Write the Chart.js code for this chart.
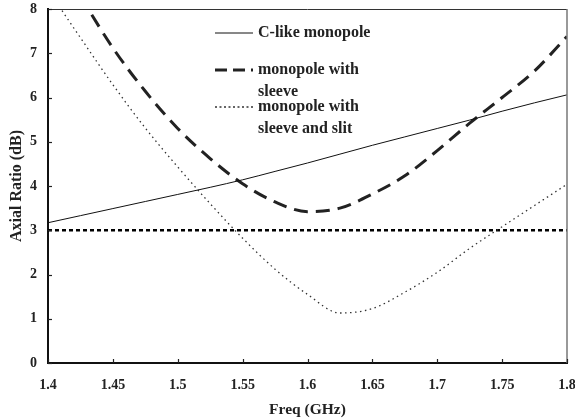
<!DOCTYPE html>
<html>
<head>
<meta charset="utf-8">
<script src="https://cdn.jsdelivr.net/npm/chart.js@4.4.1/dist/chart.umd.min.js"></script>
<style>
html,body{margin:0;padding:0;background:#fff;}
#wrap{width:575px;height:420px;}
</style>
</head>
<body>
<div id="wrap"><canvas id="c" width="575" height="420"></canvas></div>
<script>
// ---- data ----
const freqs      = [1.400,1.425,1.450,1.475,1.500,1.525,1.550,1.575,1.600,1.625,1.650,1.675,1.700,1.725,1.750,1.775,1.800];
const cLike      = [3.17, 3.33, 3.49, 3.65, 3.81, 3.97, 4.14, 4.33, 4.52, 4.72, 4.92, 5.11, 5.30, 5.49, 5.69, 5.88, 6.06];
const sleeve     = [9.60, 8.30, 7.12, 6.14, 5.30, 4.62, 4.05, 3.64, 3.42, 3.50, 3.82, 4.23, 4.80, 5.42, 6.00, 6.60, 7.38];
const sleeveSlit = [8.43, 7.35, 6.29, 5.31, 4.43, 3.60, 2.82, 2.12, 1.55, 1.13, 1.23, 1.60, 2.05, 2.59, 3.08, 3.56, 4.04];
const threshold  = [3, 3];
const thresholdFreqs = [1.4, 1.8];
const xTicks = [1.4,1.45,1.5,1.55,1.6,1.65,1.7,1.75,1.8];
const yTicks = [0,1,2,3,4,5,6,7,8];
const seriesNames = ['C-like monopole', 'monopole with\nsleeve', 'monopole with\nsleeve and slit'];

const pts = (xs, ys) => xs.map((x, i) => ({x: x, y: ys[i]}));
const SERIF = '"Liberation Serif","Times New Roman",serif';

const framePlugin = {
  id: 'frame',
  afterDraw(chart) {
    const ctx = chart.ctx, a = chart.chartArea;
    const xs = chart.scales.x, ys = chart.scales.y;
    ctx.save();
    // top and right frame
    ctx.strokeStyle = '#333'; ctx.lineWidth = 1;
    ctx.beginPath(); ctx.moveTo(a.left, a.top + 0.5); ctx.lineTo(a.right, a.top + 0.5); ctx.stroke();
    ctx.strokeStyle = '#777'; ctx.lineWidth = 1.5;
    ctx.beginPath(); ctx.moveTo(a.right, a.top); ctx.lineTo(a.right, a.bottom); ctx.stroke();
    // inward ticks
    ctx.strokeStyle = '#222'; ctx.lineWidth = 1.2;
    xs.ticks.forEach((t, i) => {
      const px = Math.round(xs.getPixelForTick(i)) + 0.5;
      ctx.beginPath(); ctx.moveTo(px, a.bottom); ctx.lineTo(px, a.bottom - 4); ctx.stroke();
    });
    ys.ticks.forEach((t, i) => {
      const py = Math.round(ys.getPixelForTick(i)) + 0.5;
      ctx.beginPath(); ctx.moveTo(a.left, py); ctx.lineTo(a.left + 4, py); ctx.stroke();
    });
    // legend
    const lx0 = 215, lx1 = 253, tx = 258;
    const rows = [33, 70, 107];
    ctx.font = 'bold 16px ' + SERIF;
    ctx.fillStyle = '#222';
    ctx.textBaseline = 'middle';
    ctx.textAlign = 'left';
    [0,1,2].forEach(k => {
      const ds = chart.data.datasets[k];
      const y = rows[k];
      ctx.save();
      ctx.strokeStyle = ds.borderColor;
      ctx.lineWidth = ds.borderWidth;
      ctx.setLineDash(k === 1 ? [12, 6] : (k === 2 ? [2, 2.5] : []));
      ctx.beginPath(); ctx.moveTo(lx0, y); ctx.lineTo(lx1, y); ctx.stroke();
      ctx.restore();
      const lines = seriesNames[k].split('\n');
      lines.forEach((s, j) => ctx.fillText(s, tx, y + j * 22));
    });
    ctx.restore();
  }
};

new Chart(document.getElementById('c'), {
  type: 'line',
  data: {
    datasets: [
      { label: seriesNames[0], data: pts(freqs, cLike), borderColor: '#111', borderWidth: 1,
        pointRadius: 0, cubicInterpolationMode: 'monotone' },
      { label: seriesNames[1], data: pts(freqs, sleeve), borderColor: '#222', borderWidth: 3,
        borderDash: [14, 8], pointRadius: 0, cubicInterpolationMode: 'monotone' },
      { label: seriesNames[2], data: pts(freqs, sleeveSlit), borderColor: '#333', borderWidth: 1.3,
        borderDash: [1.5, 3.5], pointRadius: 0, cubicInterpolationMode: 'monotone' },
      { label: '3 dB', data: pts(thresholdFreqs, threshold), borderColor: '#000', borderWidth: 2.5,
        borderDash: [4, 3], pointRadius: 0 }
    ]
  },
  options: {
    responsive: false,
    animation: false,
    devicePixelRatio: 1,
    layout: { padding: { top: 9, right: 8, left: 0, bottom: 0 } },
    plugins: { legend: { display: false }, tooltip: { enabled: false } },
    scales: {
      x: {
        type: 'linear', min: 1.4, max: 1.8,
        afterBuildTicks: s => { s.ticks = xTicks.map(v => ({value: v})); },
        afterFit: s => { s.height = 57; s.paddingLeft = 0; s.paddingRight = 0; },
        grid: { display: false, drawTicks: false },
        border: { display: true, color: '#111', width: 2 },
        ticks: { padding: 14, color: '#222', font: { family: SERIF, size: 14, weight: 'bold' },
                 callback: v => String(Number(v.toFixed(2))), maxRotation: 0, autoSkip: false },
        title: { display: true, text: 'Freq (GHz)', color: '#222', padding: { top: 0, bottom: 1 },
                 font: { family: SERIF, size: 15.5, weight: 'bold' } }
      },
      y: {
        type: 'linear', min: 0, max: 8,
        afterBuildTicks: s => { s.ticks = yTicks.map(v => ({value: v})); },
        afterFit: s => { s.width = 48; s.paddingTop = 0; s.paddingBottom = 0; },
        grid: { display: false, drawTicks: false },
        border: { display: true, color: '#111', width: 2 },
        ticks: { padding: 11, color: '#222', font: { family: SERIF, size: 14, weight: 'bold' } },
        title: { display: true, text: 'Axial Ratio (dB)', color: '#222', padding: { top: 7, bottom: 0 },
                 font: { family: SERIF, size: 16, weight: 'bold' } }
      }
    }
  },
  plugins: [framePlugin]
});
</script>
</body>
</html>
